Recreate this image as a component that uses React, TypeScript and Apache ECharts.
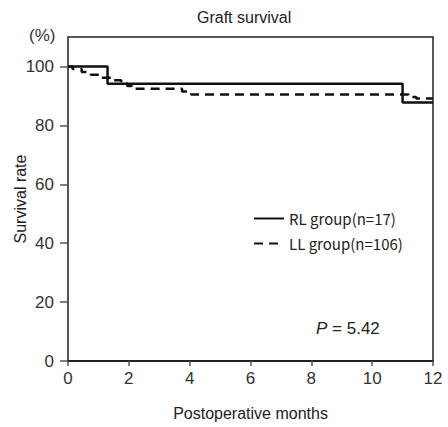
import React, { useEffect, useRef } from "react";
import * as echarts from "echarts";

const rlData: [number, number][] = [
  [0, 100],
  [1.3, 94.1],
  [11.0, 87.8],
  [12, 87.8],
];

const llData: [number, number][] = [
  [0, 100],
  [0.15, 99.1],
  [0.45, 98.1],
  [0.75, 97.2],
  [1.05, 96.2],
  [1.45, 95.3],
  [1.75, 94.3],
  [1.95, 93.4],
  [2.1, 92.4],
  [3.75, 91.5],
  [4.05, 90.5],
  [11.2, 89.6],
  [11.45, 89.1],
  [12, 89.1],
];

const xTicks = [0, 2, 4, 6, 8, 10, 12];
const yTicks = [0, 20, 40, 60, 80, 100];
const seriesNames = ["RL group(n=17)", "LL group(n=106)"];
const pValue = "5.42";

export default function App() {
  const ref = useRef<HTMLDivElement>(null);
  useEffect(() => {
    if (!ref.current) return;
    const chart = echarts.init(ref.current, null, { renderer: "svg" });
    const font = "'Liberation Sans', Arial, sans-serif";
    chart.setOption({
      animation: false,
      backgroundColor: "#fff",
      title: {
        text: "Graft survival",
        left: 192,
        top: 4,
        textStyle: { fontFamily: font, fontSize: 16, fontWeight: "normal", color: "#222" },
      },
      grid: {
        left: 68,
        right: 15,
        top: 37,
        bottom: 66,
        containLabel: false,
        outerBoundsMode: "none",
        show: true,
        borderColor: "#222",
        borderWidth: 1.5,
      },
      legend: {
        orient: "vertical",
        left: 248,
        top: 206,
        itemWidth: 30,
        itemHeight: 10,
        itemGap: 10,
        itemStyle: { opacity: 0 },
        data: seriesNames,
        textStyle: { fontFamily: "'Noto Sans CJK JP', sans-serif", fontSize: 15, color: "#222" },
      },
      xAxis: {
        type: "value",
        min: 0,
        max: 12,
        interval: 2,
        name: "Postoperative months",
        nameLocation: "middle",
        nameGap: 44,
        nameMoveOverlap: false,
        nameTextStyle: { fontFamily: font, fontSize: 16, color: "#222" },
        axisLine: { show: true, lineStyle: { color: "#222", width: 2 } },
        axisTick: { show: true, length: 5, lineStyle: { color: "#555", width: 1.5 } },
        axisLabel: {
          fontFamily: font,
          fontSize: 17,
          color: "#333",
          margin: 9,
          formatter: (v: number) => (xTicks.includes(v) ? String(v) : ""),
        },
        splitLine: { show: false },
      },
      yAxis: {
        type: "value",
        min: 0,
        max: 110,
        name: "Survival rate",
        nameLocation: "middle",
        nameGap: 40,
        nameMoveOverlap: false,
        nameRotate: 90,
        nameTextStyle: { fontFamily: font, fontSize: 16, color: "#222" },
        axisLine: { show: true, lineStyle: { color: "#555", width: 1.5 } },
        axisTick: { show: true, length: 8, customValues: yTicks, lineStyle: { color: "#555", width: 1.5 } },
        axisLabel: {
          fontFamily: font,
          fontSize: 17,
          color: "#333",
          margin: 14,
          customValues: yTicks,
        },
        splitLine: { show: false },
      },
      graphic: [
        {
          type: "text",
          left: 29,
          top: 27,
          style: { text: "(%)", font: `17px 'Liberation Sans', Arial, sans-serif`, fill: "#333" },
        },
        {
          type: "text",
          left: 316,
          top: 320,
          style: {
            text: `{i|P} = ${pValue}`,
            font: `17px 'Liberation Sans', Arial, sans-serif`,
            fill: "#222",
            rich: { i: { fontStyle: "italic", fontSize: 17, fontFamily: font } },
          },
        },
      ],
      series: [
        {
          name: seriesNames[0],
          type: "line",
          step: "end",
          data: rlData,
          symbol: "none",
          lineStyle: { color: "#111", width: 2.5, type: "solid" },
          itemStyle: { color: "#111" },
          z: 3,
        },
        {
          name: seriesNames[1],
          type: "line",
          step: "end",
          data: llData,
          symbol: "none",
          lineStyle: { color: "#111", width: 2.5, type: [9, 6] },
          itemStyle: { color: "#111" },
          z: 2,
        },
      ],
    });
    return () => chart.dispose();
  }, []);
  return <div ref={ref} style={{ width: 448, height: 427, position: "absolute", left: 0, top: 0 }} />;
}
